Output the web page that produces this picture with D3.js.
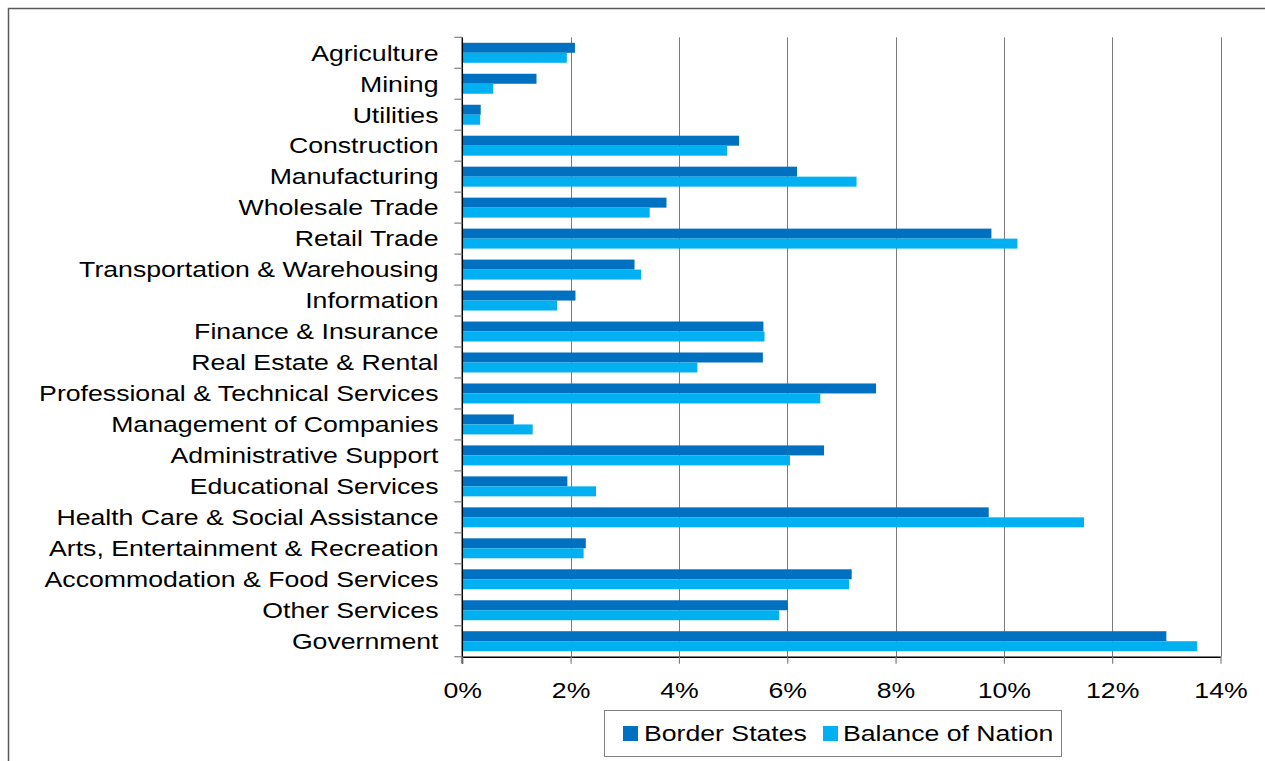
<!DOCTYPE html>
<html>
<head>
<meta charset="utf-8">
<script src="https://cdn.jsdelivr.net/npm/d3@7"></script>
<style>
  html, body { margin: 0; padding: 0; background: #ffffff; }
  svg { display: block; }
  text { font-family: "Liberation Sans", Arial, sans-serif; fill: #000; }
</style>
</head>
<body>
<svg id="chart" width="1265" height="761"></svg>
<script>
// Industry shares of employment (%)
const categories = [
  "Agriculture", "Mining", "Utilities", "Construction", "Manufacturing",
  "Wholesale Trade", "Retail Trade", "Transportation & Warehousing", "Information",
  "Finance & Insurance", "Real Estate & Rental", "Professional & Technical Services",
  "Management of Companies", "Administrative Support", "Educational Services",
  "Health Care & Social Assistance", "Arts, Entertainment & Recreation",
  "Accommodation & Food Services", "Other Services", "Government"
];
const borderStates = [2.08, 1.37, 0.34, 5.11, 6.18, 3.77, 9.77, 3.18, 2.09, 5.56,
                      5.55, 7.64, 0.95, 6.68, 1.94, 9.72, 2.28, 7.19, 6.01, 13.0];
const balanceOfNation = [1.93, 0.57, 0.33, 4.89, 7.28, 3.46, 10.25, 3.30, 1.75, 5.58,
                         4.34, 6.61, 1.30, 6.05, 2.47, 11.48, 2.24, 7.14, 5.85, 13.57];
const seriesNames = ["Border States", "Balance of Nation"];
const xTicks = [0, 2, 4, 6, 8, 10, 12, 14];

const colors = ["#0070C0", "#00B0F0"];
const fontSize = 22.4;
const stretch = 1.19;   // labels are drawn slightly widened

const svg = d3.select("#chart");

// outer frame
svg.append("rect")
  .attr("x", 8.5).attr("y", 8.5)
  .attr("width", 1300).attr("height", 800)
  .attr("fill", "none").attr("stroke", "#5a5a5a").attr("stroke-width", 1.5);

const plot = { left: 462.3, right: 1220.5, top: 37.3, bottom: 656.7 };

const x = d3.scaleLinear().domain([0, 14]).range([plot.left, plot.right]);
const y = d3.scaleBand().domain(categories)
  .range([plot.top, plot.bottom])
  .paddingInner(0.355).paddingOuter(0.355 / 2);
const ySub = d3.scaleBand().domain([0, 1]).range([0, y.bandwidth()]);

// vertical gridlines
svg.append("g").selectAll("line")
  .data(xTicks.filter(d => d > 0))
  .join("line")
  .attr("x1", d => Math.round(x(d)) + 0.5).attr("x2", d => Math.round(x(d)) + 0.5)
  .attr("y1", plot.top).attr("y2", plot.bottom)
  .attr("stroke", "#7a7a7a").attr("stroke-width", 1);

// bars
const series = [borderStates, balanceOfNation];
const rows = categories.map((c, i) => ({ c, vals: series.map(s => s[i]) }));
const groups = svg.append("g").selectAll("g")
  .data(rows).join("g")
  .attr("transform", d => `translate(0,${y(d.c)})`);
groups.selectAll("rect")
  .data(d => d.vals.map((v, k) => ({ v, k })))
  .join("rect")
  .attr("x", x(0))
  .attr("y", d => ySub(d.k))
  .attr("width", d => x(d.v) - x(0))
  .attr("height", ySub.bandwidth())
  .attr("fill", d => colors[d.k]);

// category axis: line, boundary ticks and labels
svg.append("line")
  .attr("x1", plot.left).attr("x2", plot.left)
  .attr("y1", plot.top).attr("y2", plot.bottom + 7)
  .attr("stroke", "#000").attr("stroke-width", 1.5);
const step = y.step();
svg.append("g").selectAll("line")
  .data(d3.range(categories.length + 1))
  .join("line")
  .attr("x1", plot.left - 8).attr("x2", plot.left)
  .attr("y1", i => plot.top + i * step).attr("y2", i => plot.top + i * step)
  .attr("stroke", "#808080").attr("stroke-width", 1.2);
svg.append("g").selectAll("text")
  .data(categories)
  .join("text")
  .attr("transform", c => `translate(438.5,${y(c) + y.bandwidth() / 2 + 7.8}) scale(${stretch},1)`)
  .attr("text-anchor", "end")
  .style("font-size", fontSize + "px")
  .text(c => c);

// value axis
const xAxis = svg.append("g")
  .attr("transform", `translate(0,${plot.bottom})`)
  .call(d3.axisBottom(x).tickValues(xTicks).tickSize(7).tickSizeOuter(0)
    .tickFormat(d => d + "%"));
xAxis.select(".domain").attr("stroke", "#000").attr("stroke-width", 1.5);
xAxis.selectAll(".tick line").attr("stroke", "#808080").attr("stroke-width", 1.2);
xAxis.selectAll(".tick text")
  .attr("y", 41).attr("dy", null)
  .attr("transform", `scale(${stretch},1)`)
  .style("font-size", fontSize + "px")
  .attr("font-family", null);

// legend
const legend = svg.append("g");
legend.append("rect")
  .attr("x", 604.5).attr("y", 710.5).attr("width", 457).attr("height", 46)
  .attr("fill", "#fff").attr("stroke", "#808080").attr("stroke-width", 1);
const legendItems = [
  { name: seriesNames[0], color: colors[0], sx: 623, tx: 644 },
  { name: seriesNames[1], color: colors[1], sx: 823, tx: 843 }
];
legendItems.forEach(it => {
  legend.append("rect")
    .attr("x", it.sx).attr("y", 726).attr("width", 15).attr("height", 15)
    .attr("fill", it.color);
  legend.append("text")
    .attr("transform", `translate(${it.tx},741) scale(${stretch},1)`)
    .style("font-size", fontSize + "px")
    .text(it.name);
});
</script>
</body>
</html>
